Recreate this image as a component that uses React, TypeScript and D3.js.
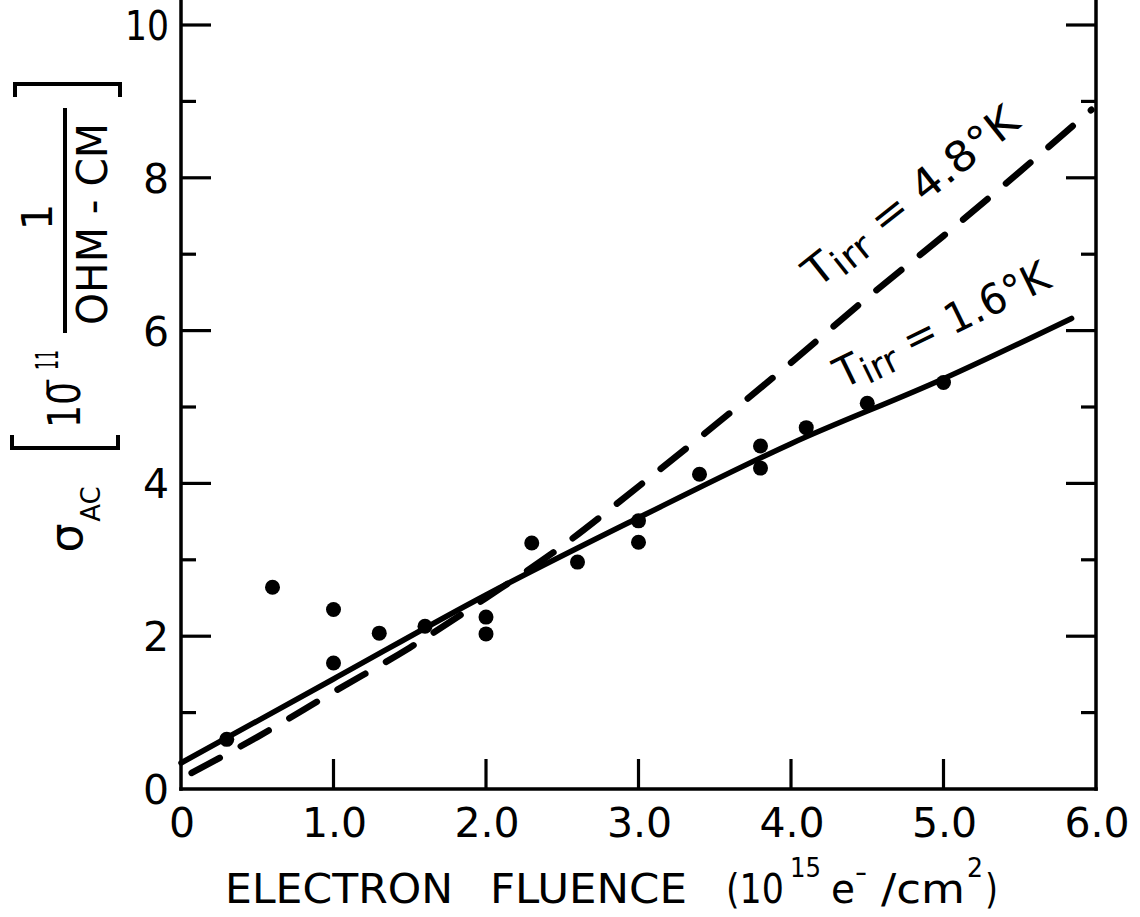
import React from 'react';
import * as d3 from 'd3';

// ---- data ----
const xTickValues = [1, 2, 3, 4, 5];
const xLabelValues = [0, 1, 2, 3, 4, 5, 6];
const xTickLabels = ['0', '1.0', '2.0', '3.0', '4.0', '5.0', '6.0'];
const yMajorTicks = [2, 4, 6, 8, 10];
const yLabelValues = [0, 2, 4, 6, 8, 10];
const yTickLabels = ['0', '2', '4', '6', '8', '10'];
const yMinorTicks = [1, 3, 5, 7, 9];

// measured points (electron fluence, sigma_AC)
const pointX = [0.3, 0.6, 1.0, 1.0, 1.3, 1.6, 2.0, 2.0, 2.3, 2.6, 3.0, 3.0, 3.4, 3.8, 3.8, 4.1, 4.5, 5.0];
const pointY = [0.65, 2.64, 2.35, 1.65, 2.04, 2.13, 2.25, 2.03, 3.22, 2.97, 3.51, 3.23, 4.12, 4.49, 4.2, 4.73, 5.05, 5.32];

// T_irr = 1.6 K (solid)
const solidX = [0, 1.0, 2.0, 3.0, 4.0, 5.0, 5.84];
const solidY = [0.34, 1.44, 2.54, 3.55, 4.52, 5.37, 6.16];

// T_irr = 4.8 K (dashed)
const dashX = [0.07, 0.5, 1.0, 1.5, 2.0, 2.5, 3.0, 3.5, 4.0, 4.5, 5.0, 5.5, 5.97];
const dashY = [0.21, 0.68, 1.27, 1.85, 2.5, 3.18, 3.96, 4.76, 5.58, 6.43, 7.24, 8.08, 8.89];

const FONT = "'DejaVu Sans', sans-serif";

export default function App() {
  const W = 1140;
  const H = 917;
  const x = d3.scaleLinear().domain([0, 6]).range([181, 1096]);
  const y = d3.scaleLinear().domain([0, 10]).range([789, 25]);
  const topPx = 0;

  const line = d3
    .line<[number, number]>()
    .x((d) => x(d[0]))
    .y((d) => y(d[1]))
    .curve(d3.curveMonotoneX);

  const solidPts: [number, number][] = solidX.map((v, i) => [v, solidY[i]]);
  const dashPts: [number, number][] = dashX.map((v, i) => [v, dashY[i]]);

  const x0 = x(0);
  const x6 = x(6);
  const y0 = y(0);

  return (
    <svg
      width={W}
      height={H}
      viewBox={`0 0 ${W} ${H}`}
      style={{ position: 'absolute', left: 0, top: 0, background: '#fff' }}
      fontFamily={FONT}
    >
      <rect x={0} y={0} width={W} height={H} fill="#fff" />

      {/* axes frame */}
      <g stroke="#000" strokeWidth={3.5} fill="none" strokeLinecap="square">
        <line x1={x0} y1={topPx} x2={x0} y2={y0} />
        <line x1={x0} y1={y0} x2={x6} y2={y0} />
        <line x1={x6} y1={topPx} x2={x6} y2={y0} />
      </g>

      {/* ticks */}
      <g stroke="#000" strokeWidth={3.2}>
        {xTickValues.map((v) => (
          <line key={'xt' + v} x1={x(v)} x2={x(v)} y1={y0} y2={y0 - 30} />
        ))}
        {yMajorTicks.map((v) => (
          <g key={'ym' + v}>
            <line x1={x0} x2={x0 + 30} y1={y(v)} y2={y(v)} />
            <line x1={x6} x2={x6 - 30} y1={y(v)} y2={y(v)} />
          </g>
        ))}
        {yMinorTicks.map((v) => (
          <g key={'yn' + v}>
            <line x1={x0} x2={x0 + 15} y1={y(v)} y2={y(v)} />
            <line x1={x6} x2={x6 - 15} y1={y(v)} y2={y(v)} />
          </g>
        ))}
      </g>

      {/* tick labels */}
      <g fontSize={41} fill="#000">
        {yLabelValues.map((v, i) => (
          <text
            key={'yl' + v}
            x={169}
            y={y(v) + 15}
            textAnchor="end"
            {...(yTickLabels[i].length > 1 ? { textLength: 44, lengthAdjust: 'spacingAndGlyphs' } : {})}
          >
            {yTickLabels[i]}
          </text>
        ))}
        {xLabelValues.map((v, i) => (
          <text key={'xl' + v} x={x(v) + 1} y={837} textAnchor="middle">
            {xTickLabels[i]}
          </text>
        ))}
      </g>

      {/* curves */}
      <path
        d={line(dashPts) || ''}
        fill="none"
        stroke="#000"
        strokeWidth={6.5}
        strokeLinecap="round"
        strokeDasharray="32 24"
      />
      <path d={line(solidPts) || ''} fill="none" stroke="#000" strokeWidth={5.5} strokeLinecap="round" />

      {/* data points */}
      <g fill="#000">
        {pointX.map((v, i) => (
          <circle key={'p' + i} cx={x(v)} cy={y(pointY[i])} r={7.5} />
        ))}
      </g>

      {/* curve labels */}
      <text
        transform="translate(817,289) rotate(-38.5)"
        fontSize={42}
        fill="#000"
        textLength={262}
        lengthAdjust="spacingAndGlyphs"
      >
        T
        <tspan fontSize={36} dy={7}>irr</tspan>
        <tspan fontSize={42} dy={-7}> = 4.8°K</tspan>
      </text>
      <text
        transform="translate(843,389) rotate(-26)"
        fontSize={42}
        fill="#000"
        textLength={234}
        lengthAdjust="spacingAndGlyphs"
      >
        T
        <tspan fontSize={36} dy={7}>irr</tspan>
        <tspan fontSize={42} dy={-7}> = 1.6°K</tspan>
      </text>

      {/* x axis title */}
      <g fill="#000">
        <text x={225} y={903} fontSize={41} textLength={228} lengthAdjust="spacingAndGlyphs">ELECTRON</text>
        <text x={490} y={903} fontSize={41} textLength={197} lengthAdjust="spacingAndGlyphs">FLUENCE</text>
        <text x={726} y={903} fontSize={41} textLength={58} lengthAdjust="spacingAndGlyphs">(10</text>
        <text x={790} y={877} fontSize={27} textLength={31} lengthAdjust="spacingAndGlyphs">15</text>
        <text x={831} y={903} fontSize={41} textLength={24} lengthAdjust="spacingAndGlyphs">e</text>
        <text x={855} y={882} fontSize={27} textLength={12} lengthAdjust="spacingAndGlyphs">−</text>
        <text x={881} y={903} fontSize={41} textLength={84} lengthAdjust="spacingAndGlyphs">/cm</text>
        <text x={967} y={877} fontSize={27} textLength={16} lengthAdjust="spacingAndGlyphs">2</text>
        <text x={985} y={903} fontSize={41} textLength={13} lengthAdjust="spacingAndGlyphs">)</text>
      </g>

      {/* y axis title (rotated) */}
      <g fill="#000">
        <text transform="translate(82,538) rotate(-90)" fontSize={46} textAnchor="middle">σ</text>
        <text transform="translate(100,504) rotate(-90)" fontSize={26} textAnchor="middle">AC</text>
        <text transform="translate(80,405) rotate(-90)" fontSize={44} textAnchor="middle" textLength={46} lengthAdjust="spacingAndGlyphs">10</text>
        <text transform="translate(58,387) rotate(-90)" fontSize={32} textAnchor="middle" textLength={20} lengthAdjust="spacingAndGlyphs">−</text>
        <text transform="translate(58,360) rotate(-90)" fontSize={32} textAnchor="middle" textLength={20} lengthAdjust="spacingAndGlyphs">11</text>
        <text transform="translate(52,217) rotate(-90)" fontSize={42} textAnchor="middle">1</text>
        <text transform="translate(107,224) rotate(-90)" fontSize={42} textAnchor="middle" textLength={202} lengthAdjust="spacingAndGlyphs">OHM - CM</text>
      </g>
      <g stroke="#000" strokeWidth={4} fill="none">
        <line x1={65} y1={108} x2={65} y2={333} />
        <path d="M15,97 L15,84 L120,84 L120,97" />
        <path d="M12,435 L12,448 L118,448 L118,435" />
      </g>
    </svg>
  );
}
